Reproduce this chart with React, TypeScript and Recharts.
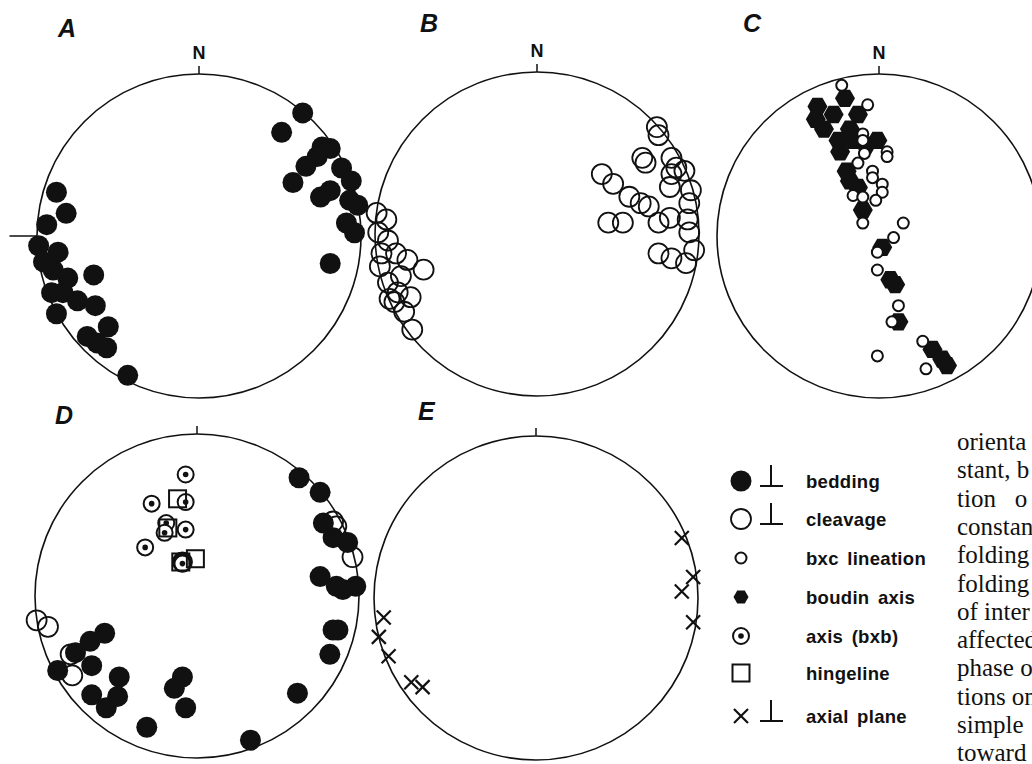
import { ScatterChart, Scatter, XAxis, YAxis, ReferenceDot, ReferenceLine } from 'recharts'

const R = 162
const PAD = 40
const SIZE = R * 2 + PAD * 2
const INK = '#111'

// stereonet positions in percent of the net radius (east = +x, north = +y)
const aBedding = [
  { x: 64, y: 76 }, { x: 51, y: 64 }, { x: 76, y: 55 }, { x: 81, y: 54 }, { x: 73, y: 49 },
  { x: 66, y: 43 }, { x: 58, y: 33 }, { x: 88, y: 42 }, { x: 94, y: 34 }, { x: 75, y: 24 },
  { x: 81, y: 28 }, { x: 93, y: 22 }, { x: 98, y: 19 }, { x: 91, y: 8 }, { x: 96, y: 2 },
  { x: 81, y: -17 },
  { x: -88, y: 27 }, { x: -82, y: 14 }, { x: -94, y: 7 }, { x: -99, y: -6 }, { x: -87, y: -10 },
  { x: -96, y: -16 }, { x: -90, y: -21 }, { x: -81, y: -26 }, { x: -65, y: -24 }, { x: -91, y: -35 },
  { x: -84, y: -35 }, { x: -75, y: -40 }, { x: -64, y: -43 }, { x: -88, y: -48 }, { x: -69, y: -62 },
  { x: -56, y: -56 }, { x: -57, y: -69 }, { x: -63, y: -66 }, { x: -44, y: -86 },
]

const bCleavage = [
  { x: 74, y: 66 }, { x: 75, y: 61 }, { x: 67, y: 44 }, { x: 65, y: 47 }, { x: 83, y: 47 },
  { x: 86, y: 41 }, { x: 91, y: 39 }, { x: 82, y: 29 }, { x: 95, y: 27 }, { x: 40, y: 37 },
  { x: 47, y: 31 }, { x: 57, y: 23 }, { x: 64, y: 19 }, { x: 69, y: 17 }, { x: 75, y: 7 },
  { x: 82, y: 10 }, { x: 44, y: 7 }, { x: 53, y: 7 }, { x: 93, y: 9 }, { x: 94, y: 1 },
  { x: 97, y: -10 }, { x: 75, y: -12 }, { x: 83, y: -15 }, { x: 92, y: -18 }, { x: 83, y: 37 },
  { x: 94, y: 19 },
  { x: -99, y: 13 }, { x: -93, y: 9 }, { x: -98, y: 1 }, { x: -92, y: -4 }, { x: -96, y: -12 },
  { x: -87, y: -12 }, { x: -80, y: -16 }, { x: -70, y: -22 }, { x: -97, y: -20 }, { x: -92, y: -30 },
  { x: -84, y: -26 }, { x: -91, y: -40 }, { x: -86, y: -36 }, { x: -78, y: -39 }, { x: -88, y: -42 },
  { x: -82, y: -48 }, { x: -77, y: -59 },
]

const cBoudin = [
  { x: -38, y: 80 }, { x: -39, y: 72 }, { x: -34, y: 66 }, { x: -28, y: 75 }, { x: -21, y: 85 },
  { x: -13, y: 75 }, { x: -18, y: 66 }, { x: -25, y: 59 }, { x: -24, y: 52 }, { x: -16, y: 59 },
  { x: -8, y: 56 }, { x: -1, y: 59 }, { x: -18, y: 34 }, { x: -13, y: 30 }, { x: -20, y: 40 },
  { x: -10, y: 16 }, { x: 2, y: -7 }, { x: 7, y: -27 }, { x: 10, y: -30 }, { x: 12, y: -53 },
  { x: 33, y: -70 }, { x: 39, y: -76 }, { x: 42, y: -80 },
]

const cLineation = [
  { x: -23, y: 93 }, { x: -7, y: 81 }, { x: -10, y: 63 }, { x: -10, y: 59 }, { x: 5, y: 52 },
  { x: 5, y: 49 }, { x: -9, y: 51 }, { x: -13, y: 45 }, { x: -4, y: 40 }, { x: -4, y: 36 },
  { x: 2, y: 32 }, { x: 2, y: 27 }, { x: -16, y: 25 }, { x: -10, y: 24 }, { x: -2, y: 22 },
  { x: -10, y: 8 }, { x: 15, y: 8 }, { x: 9, y: -1 }, { x: -1, y: -10 }, { x: -1, y: -21 },
  { x: 12, y: -43 }, { x: 8, y: -53 }, { x: -1, y: -74 }, { x: 27, y: -65 }, { x: 29, y: -82 },
]

const dBedding = [
  { x: 63, y: 73 }, { x: 76, y: 64 }, { x: 78, y: 45 }, { x: 84, y: 36 }, { x: 93, y: 33 },
  { x: 76, y: 12 }, { x: 86, y: 6 }, { x: 98, y: 6 }, { x: 90, y: 4 }, { x: 84, y: -21 },
  { x: 87, y: -21 }, { x: 82, y: -36 }, { x: 62, y: -60 }, { x: 33, y: -89 },
  { x: -57, y: -23 }, { x: -66, y: -28 }, { x: -75, y: -35 }, { x: -65, y: -43 }, { x: -86, y: -46 },
  { x: -48, y: -50 }, { x: -65, y: -61 }, { x: -56, y: -69 }, { x: -49, y: -62 }, { x: -31, y: -81 },
  { x: -9, y: -50 }, { x: -14, y: -57 }, { x: -7, y: -69 }, { x: -9, y: 21 },
]

const dCleavage = [
  { x: -99, y: -15 }, { x: -92, y: -19 }, { x: 84, y: 46 }, { x: 86, y: 43 }, { x: 96, y: 24 },
  { x: -77, y: -49 }, { x: -78, y: -36 },
]

const dFoldAxis = [
  { x: -7, y: 75 }, { x: -28, y: 57 }, { x: -7, y: 58 }, { x: -19, y: 45 }, { x: -7, y: 41 },
  { x: -20, y: 39 }, { x: -32, y: 30 }, { x: -9, y: 20 },
]

const dHinge = [
  { x: -12, y: 60 }, { x: -18, y: 42 }, { x: -10, y: 21 }, { x: -1, y: 23 },
]

const eAxialPlane = [
  { x: 90, y: 37 }, { x: 97, y: 13 }, { x: 90, y: 4 }, { x: 97, y: -15 },
  { x: -94, y: -12 }, { x: -97, y: -24 }, { x: -91, y: -36 }, { x: -77, y: -52 }, { x: -70, y: -55 },
]

const legendLabels = ['bedding', 'cleavage', 'bxc lineation', 'boudin axis', 'axis (bxb)', 'hingeline', 'axial plane']
const legendPoles = [true, true, false, false, false, false, true]

// running text beside the figure, cut by the page edge as in the source
const textLines = [
  'orienta', 'stant, b', 'tion\u00a0\u00a0\u00a0o', 'constan', 'folding', 'folding',
  'of inter', 'affected', 'phase o', 'tions on', 'simple', 'toward',
]

const hexPoints = (cx: number, cy: number, r: number) =>
  [0, 1, 2, 3, 4, 5]
    .map((i) => `${cx + r * Math.cos((Math.PI / 3) * i)},${cy + r * Math.sin((Math.PI / 3) * i)}`)
    .join(' ')

const BeddingMark = ({ cx, cy, r = 10.5 }: any) => <circle cx={cx} cy={cy} r={r} fill={INK} />
const CleavageMark = ({ cx, cy, r = 10 }: any) => (
  <circle cx={cx} cy={cy} r={r} fill="none" stroke={INK} strokeWidth={1.8} />
)
const LineationMark = ({ cx, cy }: any) => (
  <circle cx={cx} cy={cy} r={5.5} fill="#fff" stroke={INK} strokeWidth={2} />
)
const BoudinMark = ({ cx, cy, r = 10 }: any) => <polygon points={hexPoints(cx, cy, r)} fill={INK} />
const FoldAxisMark = ({ cx, cy }: any) => (
  <g>
    <circle cx={cx} cy={cy} r={8} fill="#fff" stroke={INK} strokeWidth={2} />
    <circle cx={cx} cy={cy} r={2.8} fill={INK} />
  </g>
)
const HingeMark = ({ cx, cy }: any) => (
  <rect x={cx - 8.5} y={cy - 8.5} width={17} height={17} fill="none" stroke={INK} strokeWidth={2} />
)
const AxialMark = ({ cx, cy }: any) => (
  <g stroke={INK} strokeWidth={2.2}>
    <line x1={cx - 7} y1={cy - 7} x2={cx + 7} y2={cy + 7} />
    <line x1={cx - 7} y1={cy + 7} x2={cx + 7} y2={cy - 7} />
  </g>
)

const northLabel = (p: any) => (
  <text x={p.cx} y={p.cy} textAnchor="middle" fontSize={18} fontWeight={700}
    fontFamily="'Liberation Sans', Arial, sans-serif" fill={INK}>
    N
  </text>
)

function Net({ cx, cy, north, west, children }: any) {
  return (
    <div style={{ position: 'absolute', left: cx - R - PAD, top: cy - R - PAD }}>
      <ScatterChart width={SIZE} height={SIZE} margin={{ top: PAD, right: PAD, bottom: PAD, left: PAD }}>
        <XAxis type="number" dataKey="x" domain={[-100, 100]} hide />
        <YAxis type="number" dataKey="y" domain={[-100, 100]} hide />
        <ReferenceDot x={0} y={0} r={R} fill="none" stroke={INK} strokeWidth={1.6} />
        <ReferenceLine segment={[{ x: 0, y: 100 }, { x: 0, y: 105 }]} stroke={INK} strokeWidth={1.5} ifOverflow="visible" />
        {north && <ReferenceDot x={0} y={109} r={0} ifOverflow="visible" shape={northLabel} />}
        {west && (
          <ReferenceLine segment={[{ x: -100, y: 0 }, { x: -117, y: 0 }]} stroke={INK} strokeWidth={1.5} ifOverflow="visible" />
        )}
        {children}
      </ScatterChart>
    </div>
  )
}

const letterStyle = (left: number, top: number): any => ({
  position: 'absolute',
  left,
  top,
  fontFamily: "'Liberation Sans', Arial, sans-serif",
  fontWeight: 700,
  fontStyle: 'italic',
  fontSize: 25,
  lineHeight: '25px',
  color: INK,
})

function Legend() {
  const rows = [41, 79, 118, 157, 196, 233, 276]
  const marks = [
    <BeddingMark cx={41} cy={rows[0]} r={10.5} />,
    <CleavageMark cx={41} cy={rows[1]} r={10} />,
    <LineationMark cx={41} cy={rows[2]} />,
    <BoudinMark cx={41} cy={rows[3]} r={7.5} />,
    <FoldAxisMark cx={41} cy={rows[4]} />,
    <HingeMark cx={41} cy={rows[5]} />,
    <AxialMark cx={41} cy={rows[6]} />,
  ]
  return (
    <svg width={260} height={300} style={{ position: 'absolute', left: 700, top: 440 }}>
      {legendLabels.map((label, i) => (
        <g key={label}>
          {marks[i]}
          {legendPoles[i] && (
            <g stroke={INK} strokeWidth={2}>
              <line x1={71} y1={rows[i] - 16} x2={71} y2={rows[i] + 5} />
              <line x1={60} y1={rows[i] + 5} x2={83} y2={rows[i] + 5} />
            </g>
          )}
          <text x={106} y={rows[i]} dominantBaseline="central" fontSize={18.5} fontWeight={700}
            letterSpacing={0.3} wordSpacing={3}
            fontFamily="'Liberation Sans', Arial, sans-serif" fill={INK}>
            {label}
          </text>
        </g>
      ))}
    </svg>
  )
}

export default function App() {
  return (
    <div style={{ position: 'absolute', left: 0, top: 0, width: 1032, height: 764, overflow: 'hidden', background: '#fff' }}>
      <Net cx={199} cy={236} north west>
        <Scatter data={aBedding} shape={BeddingMark} isAnimationActive={false} />
      </Net>
      <Net cx={537} cy={234} north>
        <Scatter data={bCleavage} shape={CleavageMark} isAnimationActive={false} />
      </Net>
      <Net cx={879} cy={236} north>
        <Scatter data={cBoudin} shape={BoudinMark} isAnimationActive={false} />
        <Scatter data={cLineation} shape={LineationMark} isAnimationActive={false} />
      </Net>
      <Net cx={197} cy={596}>
        <Scatter data={dBedding} shape={BeddingMark} isAnimationActive={false} />
        <Scatter data={dCleavage} shape={CleavageMark} isAnimationActive={false} />
        <Scatter data={dFoldAxis} shape={FoldAxisMark} isAnimationActive={false} />
        <Scatter data={dHinge} shape={HingeMark} isAnimationActive={false} />
      </Net>
      <Net cx={536} cy={598}>
        <Scatter data={eAxialPlane} shape={AxialMark} isAnimationActive={false} />
      </Net>
      <div style={letterStyle(58, 16)}>A</div>
      <div style={letterStyle(420, 11)}>B</div>
      <div style={letterStyle(743, 11)}>C</div>
      <div style={letterStyle(55, 403)}>D</div>
      <div style={letterStyle(418, 399)}>E</div>
      <Legend />
      {textLines.map((line, i) => (
        <div key={i} style={{
          position: 'absolute', left: 957, top: 428 + i * 28.3, whiteSpace: 'nowrap',
          fontFamily: "'Liberation Serif', 'Times New Roman', serif", fontSize: 25, lineHeight: '28px', color: INK,
        }}>
          {line}
        </div>
      ))}
    </div>
  )
}
